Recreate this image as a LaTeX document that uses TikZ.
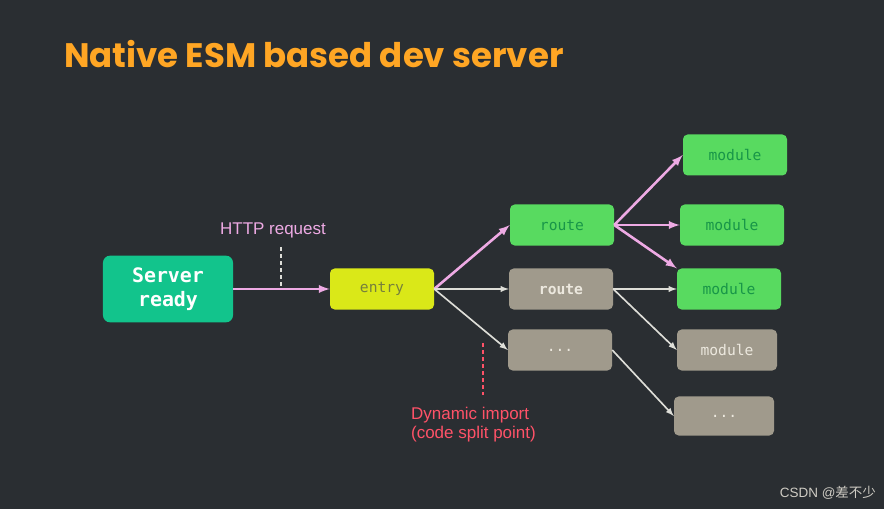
\documentclass[tikz,border=0pt]{standalone}
\usepackage{fontspec}
\setmainfont{Liberation Sans}
\setmonofont{DejaVu Sans Mono}
\newfontfamily\titlefont{Poppins}
\newfontfamily\cjk{Noto Sans CJK SC}
\usetikzlibrary{arrows}
\usetikzlibrary{calc}

\definecolor{bgdark}{RGB}{42,46,50}
\definecolor{titleorange}{RGB}{255,166,36}
\definecolor{teal}{RGB}{18,196,140}
\definecolor{leafgreen}{RGB}{88,218,96}
\definecolor{leaftext}{RGB}{24,150,72}
\definecolor{entryyellow}{RGB}{218,232,24}
\definecolor{entrytext}{RGB}{118,128,60}
\definecolor{lazygray}{RGB}{160,154,140}
\definecolor{lazytext}{RGB}{236,232,222}
\definecolor{reqpink}{RGB}{238,170,228}
\definecolor{syncwhite}{RGB}{222,222,216}
\definecolor{splitred}{RGB}{255,82,104}

\tikzset{
  box/.style={rounded corners=4pt, inner sep=0pt, minimum width=3.12cm,
    minimum height=1.23cm, font=\ttfamily\fontsize{12.5}{14}\selectfont},
  greenbox/.style={box, fill=leafgreen, text=leaftext},
  graybox/.style={box, fill=lazygray, text=lazytext},
  pinkarrow/.style={-latex, reqpink, line width=2.2pt},
  whitearrow/.style={-latex, syncwhite, line width=1.4pt},
  note/.style={font=\fontsize{14.5}{16.5}\selectfont, align=left}
}

\begin{document}
\begin{tikzpicture}[x=0.03cm, y=-0.03cm]
  \fill[bgdark] (0,0) rectangle (884,509);

  \node[anchor=base west, text=titleorange,
    font=\titlefont\bfseries\fontsize{29}{35}\selectfont] (title) at (60,68)
    {Native ESM based dev server};

  % server and entry
  \node[box, fill=teal, text=white, minimum width=3.9cm, minimum height=2cm,
    rounded corners=6pt, align=center,
    font=\ttfamily\bfseries\fontsize{17}{21}\selectfont] (server) at (168,289)
    {Server\\ready};
  \node[box, fill=entryyellow, text=entrytext] (entry) at (382,289) {entry};

  % routes
  \node[greenbox] (routeA) at (562,225) {route};
  \node[graybox, font=\ttfamily\bfseries\fontsize{12.5}{14}\selectfont] (routeB) at (561,289) {route};
  \node[graybox] (dotsA) at (560,350) {...};

  % modules
  \node[greenbox] (modA) at (735,155) {module};
  \node[greenbox] (modB) at (732,225) {module};
  \node[greenbox] (modC) at (729,289) {module};
  \node[graybox, minimum width=3cm] (modD) at (727,350) {module};
  \node[graybox, minimum width=3cm, minimum height=1.17cm] (dotsB) at (724,416) {...};

  % labels
  \node[note, text=reqpink] (http) at (273,230) {HTTP request};
  \node[note, text=splitred, anchor=north west] (split) at (407,403)
    {Dynamic import\\(code split point)};
  \coordinate (httpTop) at (281,247);
  \coordinate (httpBot) at (281,287);
  \coordinate (splitTop) at (483,343);
  \coordinate (splitBot) at (483,395);
  \draw[syncwhite, dashed, line width=1.1pt] (httpTop) -- (httpBot);
  \draw[splitred, dashed, line width=1.1pt] (splitTop) -- (splitBot);

  % connectors
  \draw[pinkarrow] (server.east) -- (entry.west);
  \draw[pinkarrow] (entry.east) -- (routeA.west);
  \draw[whitearrow] (entry.east) -- (routeB.west);
  \draw[whitearrow] (entry.east) -- (dotsA.west);
  \draw[pinkarrow] (routeA.east) -- (modA.west);
  \draw[pinkarrow] (routeA.east) -- (modB.west);
  \draw[pinkarrow] (routeA.east) -- (modC.north west);
  \draw[whitearrow] (routeB.east) -- (modC.west);
  \draw[whitearrow] (routeB.east) -- (modD.west);
  \draw[whitearrow] (dotsA.east) -- (dotsB.west);

  \node[anchor=base east, text=lazytext!85!bgdark,
    font=\fontsize{11.5}{13}\selectfont] (mark) at (880,497)
    {CSDN @{\cjk 差不少}};
\end{tikzpicture}
\end{document}
